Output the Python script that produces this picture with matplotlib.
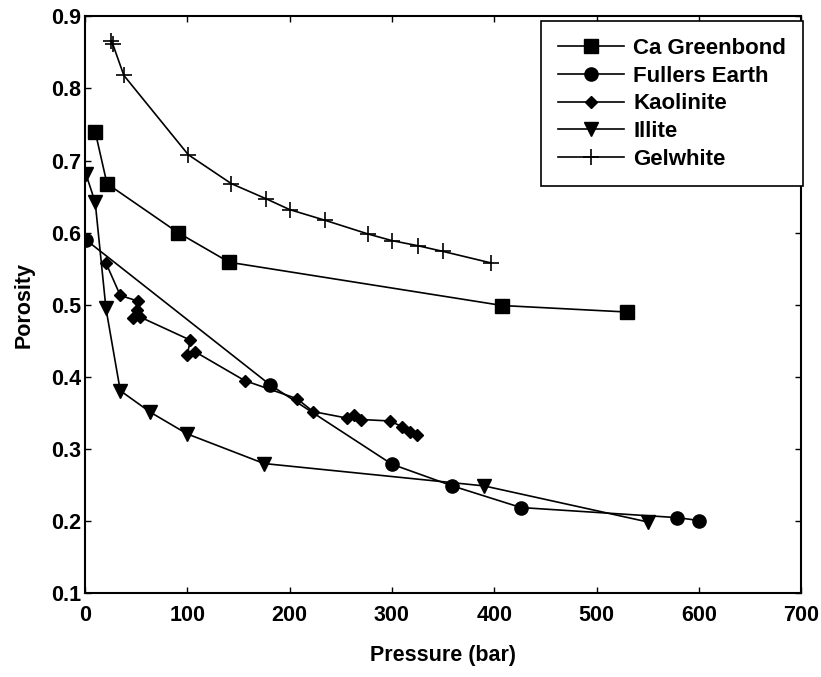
import matplotlib
matplotlib.use("Agg")
import matplotlib.pyplot as plt

plt.rcParams['font.family'] = ['Liberation Sans', 'DejaVu Sans']

ca_x = [10, 21.5, 91, 141, 408, 530]
ca_y = [0.740, 0.668, 0.600, 0.559, 0.499, 0.490]

fe_x = [1, 181, 300, 359, 426, 579, 600]
fe_y = [0.590, 0.389, 0.279, 0.249, 0.219, 0.205, 0.201]

ka_x = [20.5, 34.5, 52, 50.5, 47, 54, 103, 100, 107.5, 156, 207, 223, 256, 263, 270, 298, 310, 318, 324]
ka_y = [0.558, 0.513, 0.505, 0.493, 0.482, 0.483, 0.451, 0.431, 0.435, 0.395, 0.370, 0.352, 0.343, 0.347, 0.341, 0.339, 0.331, 0.324, 0.320]

il_x = [1, 10, 20.5, 34.5, 64, 100, 175, 390, 550]
il_y = [0.681, 0.642, 0.495, 0.381, 0.351, 0.321, 0.280, 0.249, 0.199]

ge_x = [25, 27, 38, 101, 143, 177, 200, 235, 277, 300, 325, 350, 397]
ge_y = [0.866, 0.862, 0.818, 0.708, 0.668, 0.647, 0.632, 0.617, 0.598, 0.589, 0.582, 0.574, 0.558]

FS = 15.5
LFS = 16

fig = plt.figure(figsize=(8.21, 6.77), dpi=100)
ax = fig.add_axes([0.1035, 0.1235, 0.8725, 0.8525])

lw = 1.2
ax.plot(ca_x, ca_y, '-', color='black', lw=lw, marker='s', ms=10, label='Ca Greenbond')
ax.plot(fe_x, fe_y, '-', color='black', lw=lw, marker='o', ms=9.5, label='Fullers Earth')
ax.plot(ka_x, ka_y, '-', color='black', lw=lw, marker='D', ms=6.5, label='Kaolinite')
ax.plot(il_x, il_y, '-', color='black', lw=lw, marker='v', ms=9.5, label='Illite')
ax.plot(ge_x, ge_y, '-', color='black', lw=lw, marker='+', ms=11, mew=1.2, label='Gelwhite')

ax.set_xlim(0, 700)
ax.set_ylim(0.1, 0.9)
ax.set_xticks([0, 100, 200, 300, 400, 500, 600, 700])
ax.set_yticks([0.1, 0.2, 0.3, 0.4, 0.5, 0.6, 0.7, 0.8, 0.9])
ax.set_yticklabels(['0.1', '0.2', '0.3', '0.4', '0.5', '0.6', '0.7', '0.8', '0.9'])
ax.tick_params(direction='in', top=True, right=True, length=4, width=1, labelsize=FS)
ax.tick_params(axis='x', pad=8)
ax.tick_params(axis='y', pad=2.5)
for lab in ax.get_xticklabels() + ax.get_yticklabels():
    lab.set_fontweight('bold')
for s in ax.spines.values():
    s.set_linewidth(1.5)

ax.set_xlabel('Pressure (bar)', fontsize=FS, fontweight='bold', labelpad=14)
ax.set_ylabel('Porosity', fontsize=FS, fontweight='bold', labelpad=12)

leg = ax.legend(loc='upper right', bbox_to_anchor=(1.002, 0.991), frameon=True, fancybox=False,
                edgecolor='black', framealpha=1, fontsize=LFS, handlelength=3.0,
                borderpad=0.75, labelspacing=0.3, handletextpad=0.4, borderaxespad=0)
leg.get_frame().set_linewidth(1.2)
for t in leg.get_texts():
    t.set_fontweight('bold')

fig.savefig('out.png', dpi=100)
